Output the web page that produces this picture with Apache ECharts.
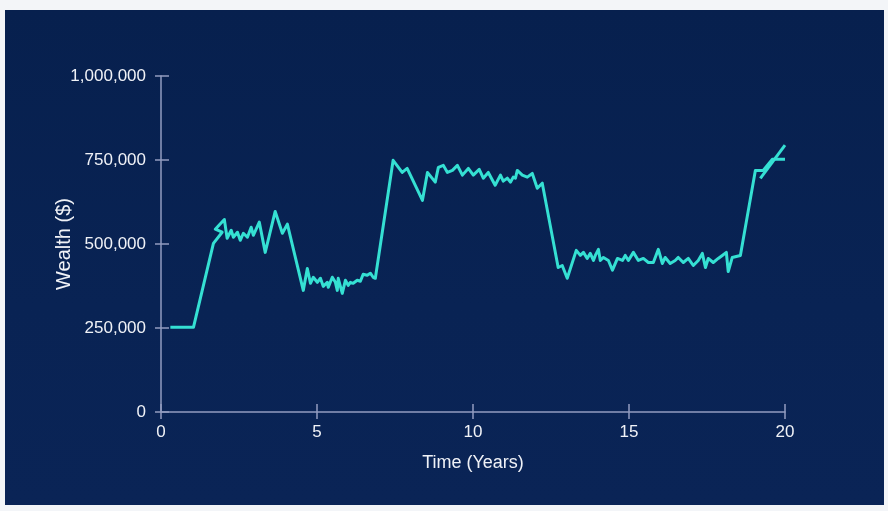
<!DOCTYPE html>
<html>
<head>
<meta charset="utf-8">
<title>Wealth over time</title>
<script src="https://cdn.jsdelivr.net/npm/echarts@6/dist/echarts.min.js"></script>
<style>
    html, body {
        margin: 0;
        padding: 0;
        width: 888px;
        height: 511px;
        background: #f3f5f8;
        overflow: hidden;
    }
    #main {
        position: absolute;
        left: 5px;
        top: 10px;
        width: 879px;
        height: 495px;
        background: linear-gradient(180deg, #07204e 0%, #092354 60%, #0a2456 100%);
    }
</style>
</head>
<body>
<div id="main"></div>
<script>
'use strict';

// axis ticks
const xTicks = [0, 5, 10, 15, 20];
const yTicks = [0, 250000, 500000, 750000, 1000000];

// main wealth path (time in years, wealth in $)
const years = [
    0.30, 1.04, 1.68, 1.96, 1.74, 2.03, 2.12, 2.25, 2.32, 2.45,
    2.54, 2.64, 2.77, 2.89, 2.96, 3.15, 3.34, 3.66, 3.89, 4.05,
    4.56, 4.69, 4.79, 4.88, 5.01, 5.11, 5.20, 5.33, 5.36, 5.49,
    5.59, 5.65, 5.68, 5.81, 5.91, 6.00, 6.07, 6.16, 6.29, 6.39,
    6.48, 6.61, 6.71, 6.80, 6.87, 7.44, 7.73, 7.89, 8.38, 8.54,
    8.79, 8.89, 9.05, 9.18, 9.34, 9.50, 9.66, 9.85, 10.01, 10.20,
    10.33, 10.49, 10.71, 10.88, 10.97, 11.10, 11.20, 11.29, 11.36, 11.42,
    11.58, 11.74, 11.90, 12.06, 12.22, 12.73, 12.86, 13.02, 13.31, 13.44,
    13.54, 13.66, 13.76, 13.86, 13.92, 14.02, 14.08, 14.18, 14.34, 14.47,
    14.63, 14.79, 14.88, 14.98, 15.14, 15.30, 15.46, 15.62, 15.78, 15.94,
    16.07, 16.16, 16.32, 16.48, 16.58, 16.74, 16.90, 17.06, 17.22, 17.35,
    17.45, 17.54, 17.70, 17.86, 17.99, 18.12, 18.18, 18.31, 18.57, 19.05,
    19.30, 19.59, 20.00
];
const wealth = [
    252000, 252000, 502000, 535000, 544000, 573000, 517000, 541000, 520000, 535000,
    511000, 532000, 520000, 550000, 526000, 565000, 475000, 597000, 532000, 559000,
    362000, 427000, 383000, 401000, 386000, 398000, 374000, 386000, 371000, 401000,
    386000, 362000, 398000, 353000, 392000, 377000, 386000, 383000, 392000, 389000,
    410000, 407000, 413000, 401000, 398000, 749000, 713000, 725000, 630000, 713000,
    684000, 728000, 734000, 713000, 719000, 734000, 705000, 725000, 705000, 722000,
    696000, 713000, 675000, 705000, 687000, 696000, 684000, 699000, 696000, 719000,
    705000, 699000, 710000, 666000, 681000, 430000, 436000, 398000, 481000, 466000,
    475000, 457000, 472000, 451000, 466000, 484000, 451000, 460000, 451000, 422000,
    457000, 451000, 466000, 451000, 475000, 451000, 457000, 445000, 445000, 484000,
    442000, 460000, 442000, 451000, 460000, 445000, 457000, 436000, 451000, 472000,
    430000, 457000, 445000, 457000, 466000, 475000, 418000, 460000, 466000, 719000,
    719000, 752000, 752000
];

// second stroke at the end of the path
const tailYears = [19.21, 20.00];
const tailWealth = [695000, 794000];

const axisColor = '#929cc0';
const labelColor = '#f0f2f7';
const lineColor = '#35e0d3';
const fontFamily = "'Liberation Sans', Arial, Helvetica, sans-serif";

const pairs = (xs, ys) => xs.map((x, i) => [x, ys[i]]);

let myChart = echarts.init(document.getElementById('main'), null, {renderer: 'canvas'});

const xBase = {
    type: 'value',
    min: xTicks[0],
    max: xTicks[xTicks.length - 1],
    interval: xTicks[1] - xTicks[0],
    position: 'bottom',
    splitLine: {show: false}
};
const yBase = {
    type: 'value',
    min: yTicks[0],
    max: yTicks[yTicks.length - 1],
    interval: yTicks[1] - yTicks[0],
    position: 'left',
    splitLine: {show: false}
};

myChart.setOption({
    animation: false,
    textStyle: {fontFamily: fontFamily},
    grid: {
        left: 156,
        top: 66,
        right: 99,
        bottom: 93
    },
    xAxis: [
        Object.assign({}, xBase, {
            name: 'Time (Years)',
            nameLocation: 'middle',
            nameGap: 42,
            nameMoveOverlap: false,
            nameTextStyle: {color: labelColor, fontSize: 18, fontFamily: fontFamily},
            axisLine: {show: true, onZero: false, lineStyle: {color: axisColor, width: 1.5}},
            axisTick: {show: true, inside: false, length: 7, lineStyle: {color: axisColor, width: 1.5}},
            axisLabel: {color: labelColor, fontSize: 17, margin: 12, fontFamily: fontFamily}
        }),
        // inner half of the crossing ticks
        Object.assign({}, xBase, {
            axisLine: {show: false},
            axisTick: {show: true, inside: true, length: 8, lineStyle: {color: axisColor, width: 1.5}},
            axisLabel: {show: false}
        })
    ],
    yAxis: [
        Object.assign({}, yBase, {
            name: 'Wealth ($)',
            nameLocation: 'middle',
            nameGap: 87,
            nameMoveOverlap: false,
            nameTextStyle: {color: labelColor, fontSize: 20, fontFamily: fontFamily},
            axisLine: {show: true, onZero: false, lineStyle: {color: axisColor, width: 1.5}},
            axisTick: {show: true, inside: false, length: 6, lineStyle: {color: axisColor, width: 1.5}},
            axisLabel: {
                color: labelColor,
                fontSize: 17,
                margin: 15,
                fontFamily: fontFamily,
                formatter: v => v.toLocaleString('en-US')
            }
        }),
        Object.assign({}, yBase, {
            axisLine: {show: false},
            axisTick: {show: true, inside: true, length: 8, lineStyle: {color: axisColor, width: 1.5}},
            axisLabel: {show: false}
        })
    ],
    series: [{
        name: 'Wealth',
        type: 'line',
        showSymbol: false,
        symbol: 'none',
        lineStyle: {color: lineColor, width: 3, join: 'round'},
        data: pairs(years, wealth)
    }, {
        name: 'Wealth tail',
        type: 'line',
        showSymbol: false,
        symbol: 'none',
        lineStyle: {color: lineColor, width: 3},
        data: pairs(tailYears, tailWealth)
    }]
});
window.onresize = myChart.resize;
</script>
</body>
</html>
